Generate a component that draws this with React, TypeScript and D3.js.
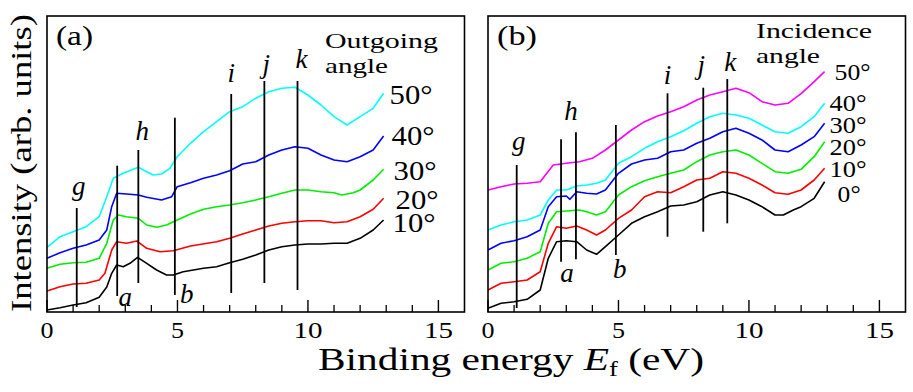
import React from 'react';
import * as d3 from 'd3';

const W = 913, H = 392;
const FONT = '"Liberation Serif", "DejaVu Serif", serif';

// x axis
const xMin = 0, xMax = 16;
const majorTicks = [0, 5, 10, 15];
const minorTicks = [1, 2, 3, 4, 6, 7, 8, 9, 11, 12, 13, 14];
// intensity (arb. units)
const yMin = 0, yMax = 296;

// Panel (a): outgoing angle
const a10 = [[0,2],[0.5,4.3],[1,7],[1.5,9.3],[2,14.7],[2.29,25],[2.48,38.7],[2.67,47],[2.92,45.3],[3.18,48.7],[3.47,54.7],[3.82,48.7],[4.2,42],[4.58,37],[4.84,37],[5.22,40.3],[6,43.7],[6.5,45.3],[7,49.3],[7.5,52.7],[8,57],[8.5,62],[9,65.3],[9.5,67],[10,68],[10.5,68],[11,68.7],[11.5,68.7],[12,73.7],[12.5,82],[12.9,92]];
const a20 = [[0,21],[0.5,25.3],[1,28],[1.5,28.7],[2,32],[2.22,38.7],[2.48,62],[2.67,70.3],[3.05,68.7],[3.44,71],[3.82,63.7],[4.33,60.3],[4.84,61.3],[5.5,66],[6.5,70.3],[7,73.7],[7.5,78],[8,82],[8.5,86],[9,88.7],[9.5,90.3],[10,91.3],[10.5,91.3],[11,89.3],[11.5,90.3],[12,95.3],[12.5,102.7],[12.9,113.7]];
const a30 = [[0,43.7],[0.5,47.7],[1,49.3],[1.5,49.7],[2,53.7],[2.29,68.7],[2.54,92],[2.73,97],[3.05,95.3],[3.5,93.7],[3.82,87],[4.2,84.7],[4.58,87],[4.99,92],[5.5,98],[6,102.7],[6.5,105.3],[7,107],[7.5,109.3],[8,112],[8.5,115.3],[9,118.7],[9.5,122],[10,122],[10.5,120.3],[11,119.3],[11.29,117],[11.74,119.3],[12,122],[12.5,132],[12.9,142.7]];
const a40 = [[0,53.7],[0.5,59.3],[1,63.7],[1.5,67],[2,72],[2.29,82],[2.48,105.3],[2.67,118.7],[3.05,118],[3.5,117],[3.82,114.7],[4.39,112],[4.78,115.3],[4.99,125.3],[5.5,129.3],[6,133.7],[6.5,137],[7,141.3],[7.5,148],[8,150.3],[8.5,157],[9,162],[9.5,165.3],[10,163.7],[10.5,157],[11,152],[11.5,150.3],[12,155.3],[12.5,162],[12.9,176]];
const a50 = [[0,64.7],[0.5,75.3],[1,80.3],[1.5,85.3],[2,95.3],[2.29,115.3],[2.54,133.7],[2.92,138.7],[3.5,144.7],[3.82,140.3],[4.07,137],[4.39,138],[4.71,143.7],[4.99,155.3],[5.5,168.7],[6,180.3],[6.5,190.3],[7,200.3],[7.5,205.3],[8,213.7],[8.5,220.3],[9,223.7],[9.5,224.7],[10,217],[10.5,207],[11,195.3],[11.5,187],[12,195.3],[12.5,203.7],[12.9,218.7]];

// Panel (b): incidence angle
const b0 = [[0,3.7],[0.5,8.7],[1,10.3],[1.5,12.7],[2,22],[2.31,53.7],[2.63,70.3],[3,71.3],[3.4,70.3],[3.78,62],[4.16,57.7],[4.5,65.3],[5,77],[5.5,88.7],[6,95.3],[6.5,100.3],[7,106],[7.5,107],[8,110.3],[8.5,117],[9,120.3],[9.5,117],[10,112],[10.5,105.3],[11,97],[11.32,97],[11.7,102],[12,105.3],[12.5,113.7],[12.9,130.3]];
const b10 = [[0,22],[0.5,28.7],[1,30.3],[1.5,32],[2,40.3],[2.31,68.7],[2.63,85.3],[3,83.7],[3.4,86],[3.78,82],[4.16,77],[4.5,82],[5,93.7],[5.5,102],[6,115.3],[6.5,120.3],[7,119.3],[7.5,125.3],[8,132],[8.5,133.7],[9,140.3],[9.5,138.7],[10,133.7],[10.5,127],[11,119.3],[11.5,117.7],[12,122],[12.5,132],[12.9,143.7]];
const b20 = [[0,42],[0.5,48.7],[1,50.3],[1.5,53.7],[2,60.3],[2.31,88.7],[2.63,100.3],[3,101],[3.5,102],[3.78,100.3],[4.16,97],[4.5,100.3],[5,117],[5.5,125.3],[6,131.3],[6.5,135.3],[7,138.7],[7.5,142],[8,150.3],[8.5,157],[9,160.3],[9.5,162],[10,157],[10.5,148.7],[11,140.3],[11.5,138.7],[12,142.7],[12.5,155.3],[12.9,170.3]];
const b30 = [[0,62],[0.5,68.7],[1,71.3],[1.5,75.3],[2,82],[2.31,105.3],[2.63,115.3],[3,116],[3.14,112.7],[3.4,120.3],[3.78,118.7],[4.16,118],[4.5,122],[5,138.7],[5.5,148],[6,152],[6.5,153.7],[7,160.3],[7.5,162],[8,168.7],[8.5,173.7],[9,180.3],[9.5,183.7],[10,178.7],[10.5,172],[11,162],[11.5,160.3],[12,167],[12.5,175.3],[12.9,188.7]];
const b40 = [[0,82],[0.5,87],[1,90.3],[1.5,92],[2,97],[2.31,112],[2.63,122],[3,122],[3.4,126],[3.78,127],[4.16,128.7],[4.5,132],[5,148.7],[5.5,155.3],[6,163.7],[6.5,170.3],[7,175.3],[7.5,181.3],[8,188.7],[8.5,195.3],[9,198.7],[9.5,197],[10,193.7],[10.5,187],[11,180.3],[11.5,178.7],[12,185.3],[12.5,195.3],[12.9,208.7]];
const b50 = [[0,122],[0.5,125.3],[1,128],[1.5,128.7],[2,130.3],[2.5,147],[3,148.7],[3.5,150.3],[4,153.7],[4.5,162],[5,172],[5.5,182],[6,190.3],[6.5,196],[7,200.3],[7.5,205.3],[8,212],[8.5,217],[9,220.3],[9.5,223.7],[10,219.3],[10.5,210.3],[11,207],[11.5,208.7],[12,218.3],[12.5,230.3],[12.9,240.3]];

const labelsA = ['50°', '40°', '30°', '20°', '10°'];
const labelsB = ['50°', '40°', '30°', '20°', '10°', '0°'];
const colorsA = ['#00ffff', '#0000ff', '#00ee00', '#ff0000', '#000000'];
const colorsB = ['#ff00ff', '#00ffff', '#0000ff', '#00ee00', '#ff0000', '#000000'];

// marker lines: energy, label, extent in intensity units
const markerEnergyA = [1.14, 2.69, 3.5, 4.9, 7.06, 8.33, 9.6];
const markerEnergyB = [1.1, 2.8, 3.37, 4.9, 6.88, 8.25, 9.17];
const markerNames = ['g', 'a', 'h', 'b', 'i', 'j', 'k'];
const markerLoA = [5, 16, 29, 17, 19, 29, 22];
const markerHiA = [104, 146.3, 162, 194.3, 218, 231, 231];
const markerLoB = [4, 50.3, 52.7, 57, 75.3, 80.3, 88.7];
const markerHiB = [147, 172.7, 179.7, 187, 218.7, 224.3, 233];

interface PanelSpec {
  left: number; right: number;
  series: number[][][]; colors: string[]; labels: string[];
  labelLayout: { dx: number; dy: number; len: number }[];
  mE: number[]; mLo: number[]; mHi: number[];
  mLabel: { dx: number; dy: number; below: boolean }[];
  tag: string; tagX: number; tagLen: number;
  title: string[]; titleX: number; titleY: number[]; titleLen: number[]; titleSize: number;
  labelSize: number;
}

const TOP = 16, BOTTOM = 312;

function Panel({ p }: { p: PanelSpec }) {
  const x = d3.scaleLinear().domain([xMin, xMax]).range([p.left, p.right]);
  const y = d3.scaleLinear().domain([yMin, yMax]).range([BOTTOM, TOP]);
  const line = d3.line<number[]>().x(d => x(d[0])).y(d => y(d[1])).curve(d3.curveLinear);
  return (
    <g>
      {p.series.map((s, i) => (
        <path key={i} d={line(s) || ''} fill="none" stroke={p.colors[i]} strokeWidth={1.6} strokeLinejoin="round" />
      ))}
      {p.mE.map((e, i) => (
        <line key={'m' + i} x1={x(e)} x2={x(e)} y1={y(p.mLo[i])} y2={y(p.mHi[i])} stroke="#000" strokeWidth={1.8} />
      ))}
      {p.mE.map((e, i) => {
        const L = p.mLabel[i];
        const yy = L.below ? y(p.mLo[i]) + L.dy : y(p.mHi[i]) + L.dy;
        return (
          <text key={'ml' + i} x={x(e) + L.dx} y={yy} textAnchor="middle" fontStyle="italic" fontSize={27} fill="#000">{markerNames[i]}</text>
        );
      })}
      {p.series.map((s, i) => {
        const last = s[s.length - 1];
        const L = p.labelLayout[i];
        return (
          <text key={'l' + i} x={x(last[0]) + L.dx} y={y(last[1]) + L.dy} fontSize={p.labelSize} fill="#000" textLength={L.len} lengthAdjust="spacingAndGlyphs">{p.labels[i]}</text>
        );
      })}
      {/* frame */}
      <rect x={p.left} y={TOP} width={p.right - p.left} height={BOTTOM - TOP} fill="none" stroke="#000" strokeWidth={1.6} />
      {majorTicks.map(t => (
        <g key={'t' + t}>
          <line x1={x(t)} x2={x(t)} y1={BOTTOM} y2={BOTTOM - 12} stroke="#000" strokeWidth={1.4} />
          <text x={x(t)} y={338} textAnchor="middle" fontSize={24} fill="#000" textLength={t >= 10 ? 29 : 13} lengthAdjust="spacingAndGlyphs">{t}</text>
        </g>
      ))}
      {minorTicks.map(t => (
        <line key={'n' + t} x1={x(t)} x2={x(t)} y1={BOTTOM} y2={BOTTOM - 7} stroke="#000" strokeWidth={1.3} />
      ))}
      <text x={p.tagX} y={45} fontSize={28} fill="#000" textLength={p.tagLen} lengthAdjust="spacingAndGlyphs">{p.tag}</text>
      {p.title.map((t, i) => (
        <text key={'ti' + i} x={p.titleX} y={p.titleY[i]} fontSize={p.titleSize} fill="#000" textLength={p.titleLen[i]} lengthAdjust="spacingAndGlyphs">{t}</text>
      ))}
    </g>
  );
}

export default function App() {
  const panelA: PanelSpec = {
    left: 47, right: 464.5,
    series: [a50, a40, a30, a20, a10], colors: colorsA, labels: labelsA,
    labelLayout: [
      { dx: 6, dy: 11, len: 43 }, { dx: 8, dy: 9, len: 43 }, { dx: 10, dy: 11, len: 43 },
      { dx: 12, dy: 11, len: 43 }, { dx: 9, dy: 12, len: 43 },
    ],
    mE: markerEnergyA, mLo: markerLoA, mHi: markerHiA,
    mLabel: [
      { dx: 2, dy: -13, below: false }, { dx: 8, dy: 10, below: true }, { dx: 4, dy: -10, below: false },
      { dx: 12, dy: 8, below: true }, { dx: 0, dy: -12, below: false }, { dx: 2, dy: -8, below: false },
      { dx: 4, dy: -13, below: false },
    ],
    tag: '(a)', tagX: 56, tagLen: 37,
    title: ['Outgoing', 'angle'], titleX: 325, titleY: [48, 73], titleLen: [113, 63], titleSize: 21,
    labelSize: 27,
  };
  const panelB: PanelSpec = {
    left: 488, right: 905.5,
    series: [b50, b40, b30, b20, b10, b0], colors: colorsB, labels: labelsB,
    labelLayout: [
      { dx: 10, dy: 8, len: 36 }, { dx: 5, dy: 8, len: 37 }, { dx: 5, dy: 10, len: 37 },
      { dx: 5, dy: 13, len: 37 }, { dx: 5, dy: 9, len: 37 }, { dx: 13, dy: 20, len: 23 },
    ],
    mE: markerEnergyB, mLo: markerLoB, mHi: markerHiB,
    mLabel: [
      { dx: 2, dy: -15, below: false }, { dx: 6, dy: 20, below: true }, { dx: -5, dy: -12, below: false },
      { dx: 4, dy: 23, below: true }, { dx: 0, dy: -9, below: false }, { dx: -2, dy: -14, below: false },
      { dx: 3, dy: -8, below: false },
    ],
    tag: '(b)', tagX: 497, tagLen: 40,
    title: ['Incidence', 'angle'], titleX: 756, titleY: [38, 63], titleLen: [116, 64], titleSize: 21,
    labelSize: 23,
  };
  return (
    <svg width={W} height={H} style={{ position: 'absolute', left: 0, top: 0, background: '#fff', fontFamily: FONT }}>
      <rect x={0} y={0} width={W} height={H} fill="#fff" />
      <Panel p={panelA} />
      <Panel p={panelB} />
      <text transform="translate(31,163) rotate(-90)" textAnchor="middle" fontSize={30} fill="#000" textLength={298} lengthAdjust="spacingAndGlyphs">Intensity (arb. units)</text>
      <text x={318} y={370} fontSize={31} fill="#000" textLength={386} lengthAdjust="spacingAndGlyphs">
        Binding energy <tspan fontStyle="italic">E</tspan><tspan fontSize={20} dy={6}>f</tspan><tspan dy={-6}> (eV)</tspan>
      </text>
    </svg>
  );
}
